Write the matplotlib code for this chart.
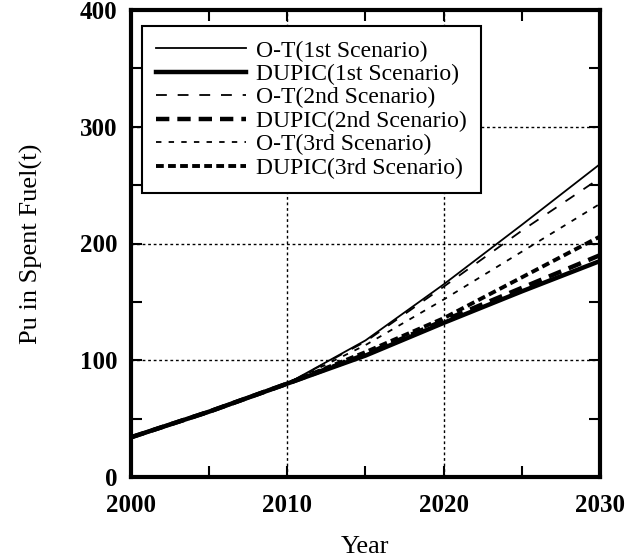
import matplotlib
matplotlib.use("Agg")
import matplotlib.pyplot as plt
from matplotlib.ticker import MultipleLocator

years = [2000, 2005, 2010, 2015, 2020, 2025, 2030]
ot_1st = [34, 56, 80, 117, 165, 216, 268]
dupic_1st = [34, 56, 80, 104, 132, 159, 185]
ot_2nd = [34, 56, 80, 116, 163, 211, 256]
dupic_2nd = [34, 56, 80, 105, 134, 162, 190]
ot_3rd = [34, 56, 80, 113, 152, 193, 234]
dupic_3rd = [34, 56, 80, 107, 136, 171, 206]

labels = ["O-T(1st Scenario)", "DUPIC(1st Scenario)", "O-T(2nd Scenario)",
          "DUPIC(2nd Scenario)", "O-T(3rd Scenario)", "DUPIC(3rd Scenario)"]

plt.rcParams['font.family'] = ['Liberation Serif', 'DejaVu Serif']

fig = plt.figure(figsize=(6.39, 5.58), dpi=100)
ax = fig.add_axes([131/639, 1-477/558, (600-131)/639, (477-10)/558])

ax.plot(years, ot_1st, color='black', lw=1.3, ls='-', label=labels[0])
ax.plot(years, dupic_1st, color='black', lw=3.2, ls='-', label=labels[1])
ax.plot(years, ot_2nd, color='black', lw=1.3, ls=(0, (6, 6)), label=labels[2])
ax.plot(years, dupic_2nd, color='black', lw=3.2, ls=(0, (3, 1.8)), label=labels[3])
ax.plot(years, ot_3rd, color='black', lw=1.3, ls=(0, (3, 4)), label=labels[4])
ax.plot(years, dupic_3rd, color='black', lw=2.8, ls=(0, (2, 1.1)), label=labels[5])

ax.set_xlim(2000, 2030)
ax.set_ylim(0, 400)
ax.xaxis.set_major_locator(MultipleLocator(10))
ax.xaxis.set_minor_locator(MultipleLocator(5))
ax.yaxis.set_major_locator(MultipleLocator(100))
ax.yaxis.set_minor_locator(MultipleLocator(50))
ax.tick_params(which='both', direction='in', top=True, right=True, width=1.5, color='black')
ax.tick_params(which='major', length=8)
ax.tick_params(which='minor', length=8)
ax.tick_params(axis='x', which='major', pad=12)
ax.tick_params(axis='y', which='major', pad=10)
for lab in ax.get_xticklabels() + ax.get_yticklabels():
    lab.set_fontweight('bold')
    lab.set_fontsize(18)

ax.grid(True, which='major', color='black', ls=(0, (2, 2)), lw=1.0)
for s in ax.spines.values():
    s.set_linewidth(3)

ax.set_xlabel("Year", fontsize=19, labelpad=14)
ax.set_ylabel("Pu in Spent Fuel(t)", fontsize=19, labelpad=26)

leg = ax.legend(loc='upper left', bbox_to_anchor=(11/469, 1-16/467), fontsize=17,
                handlelength=3.8, frameon=True, fancybox=False, framealpha=1,
                edgecolor='black', labelspacing=0.08, borderpad=0.6,
                handletextpad=0.42, borderaxespad=0)
leg.get_frame().set_linewidth(1.5)

fig.savefig("out.png", dpi=100)
